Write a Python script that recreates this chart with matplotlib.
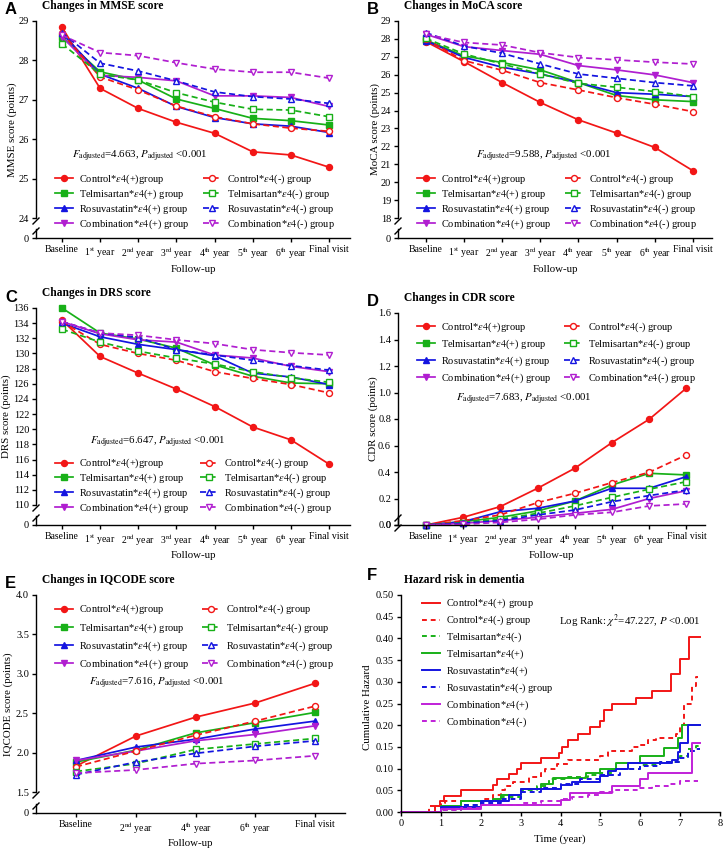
import numpy as np
import matplotlib
matplotlib.use('Agg')
import matplotlib.pyplot as plt
from matplotlib.lines import Line2D

plt.rcParams['font.family'] = ['Liberation Serif', 'DejaVu Serif']
plt.rcParams['mathtext.fontset'] = 'stix'
plt.rcParams['font.size'] = 7.5
plt.rcParams['axes.linewidth'] = 1.0


####################################################
# Data
groups = ['Control', 'Telmisartan', 'Rosuvastatin', 'Combination']
colors = ['#f21616', '#18b018', '#1414e0', '#b01ed0']
markers = ['o', 's', '^', 'v']

visits8 = ['Baseline', '1$^{\\rm st}$ year', '2$^{\\rm nd}$ year', '3$^{\\rm rd}$ year',
           '4$^{\\rm th}$ year', '5$^{\\rm th}$ year', '6$^{\\rm th}$ year', 'Final visit']
visits5 = ['Baseline', '2$^{\\rm nd}$ year', '4$^{\\rm th}$ year', '6$^{\\rm th}$ year', 'Final visit']

# (A) MMSE, rows follow `groups`
mmse_pos = [[28.84, 27.29, 26.78, 26.43, 26.15, 25.68, 25.60, 25.29],
            [28.60, 27.71, 27.50, 27.02, 26.78, 26.53, 26.47, 26.36],
            [28.69, 27.65, 27.29, 26.83, 26.55, 26.39, 26.33, 26.17],
            [28.60, 27.62, 27.57, 27.48, 27.10, 27.10, 27.06, 26.83]]
mmse_neg = [[28.70, 27.58, 27.25, 26.84, 26.57, 26.39, 26.28, 26.20],
            [28.42, 27.65, 27.50, 27.18, 26.94, 26.76, 26.74, 26.57],
            [28.70, 27.93, 27.73, 27.48, 27.20, 27.08, 27.02, 26.91],
            [28.64, 28.20, 28.12, 27.94, 27.78, 27.70, 27.70, 27.55]]

# (B) MoCA
moca_pos = [[27.85, 26.73, 25.56, 24.45, 23.48, 22.74, 21.94, 20.64],
            [27.94, 27.05, 26.68, 26.27, 25.56, 24.84, 24.60, 24.50],
            [27.90, 26.97, 26.42, 26.04, 25.56, 25.00, 24.91, 24.78],
            [28.26, 27.57, 27.35, 27.14, 26.51, 26.27, 25.99, 25.56]]
moca_neg = [[27.98, 26.79, 26.25, 25.56, 25.15, 24.72, 24.35, 23.94],
            [28.03, 27.16, 26.60, 26.04, 25.52, 25.30, 25.06, 24.78],
            [28.35, 27.60, 27.20, 26.60, 26.04, 25.80, 25.56, 25.38],
            [28.26, 27.80, 27.66, 27.23, 26.96, 26.83, 26.70, 26.60]]

# (C) DRS
drs_pos = [[134.4, 129.6, 127.4, 125.3, 123.0, 120.3, 118.6, 115.4],
           [136.0, 132.7, 131.9, 130.7, 128.5, 127.0, 126.1, 126.0],
           [134.0, 132.2, 131.2, 130.5, 129.7, 127.4, 126.9, 125.9],
           [134.2, 132.6, 131.8, 131.5, 129.8, 129.4, 128.3, 127.6]]
drs_neg = [[134.2, 131.2, 130.0, 129.1, 127.6, 126.7, 125.9, 124.8],
           [133.2, 131.5, 130.3, 129.4, 128.6, 127.6, 126.8, 126.2],
           [134.2, 132.7, 132.1, 130.5, 129.8, 129.1, 128.4, 127.8],
           [134.2, 132.7, 132.4, 131.8, 131.3, 130.5, 130.1, 129.8]]

# (D) CDR
cdr_pos = [[0.0, 0.058, 0.139, 0.277, 0.428, 0.622, 0.798, 1.033],
           [0.0, 0.025, 0.058, 0.106, 0.181, 0.302, 0.390, 0.378],
           [0.0, 0.025, 0.100, 0.126, 0.181, 0.277, 0.277, 0.365],
           [0.0, 0.013, 0.033, 0.058, 0.088, 0.118, 0.200, 0.259]]
cdr_neg = [[0.0, 0.033, 0.076, 0.169, 0.239, 0.320, 0.398, 0.529],
           [0.0, 0.018, 0.043, 0.088, 0.144, 0.209, 0.270, 0.327],
           [0.0, 0.013, 0.033, 0.076, 0.113, 0.176, 0.222, 0.264],
           [0.0, 0.005, 0.020, 0.043, 0.076, 0.096, 0.144, 0.159]]

# (E) IQCODE
iqcode_pos = [[1.83, 2.21, 2.45, 2.63, 2.88],
              [1.88, 2.03, 2.25, 2.38, 2.51],
              [1.90, 2.07, 2.17, 2.30, 2.40],
              [1.90, 2.02, 2.15, 2.23, 2.34]]
iqcode_neg = [[1.82, 2.02, 2.22, 2.40, 2.59],
              [1.76, 1.86, 2.04, 2.11, 2.18],
              [1.72, 1.88, 1.99, 2.08, 2.15],
              [1.74, 1.78, 1.86, 1.90, 1.96]]

# (F) cumulative hazard: event times and hazard after each event
haz_labels = ['Control*$\\mathit{\\varepsilon4}$(+) group', 'Control*$\\mathit{\\varepsilon4}$(-) group',
              'Telmisartan*$\\mathit{\\varepsilon4}$(-)', 'Telmisartan*$\\mathit{\\varepsilon4}$(+)',
              'Rosuvastatin*$\\mathit{\\varepsilon4}$(+)', 'Rosuvastatin*$\\mathit{\\varepsilon4}$(-) group',
              'Combination*$\\mathit{\\varepsilon4}$(+)', 'Combination*$\\mathit{\\varepsilon4}$(-)']
haz_colors = ['#f21616', '#f21616', '#18b018', '#18b018', '#1414e0', '#1414e0', '#c020d8', '#c020d8']
haz_dashed = [False, True, True, False, False, True, False, True]

ctrl_pos_t = [0.85, 0.98, 1.09, 1.5, 2.3, 2.4, 2.7, 2.9, 3.0, 3.5, 3.95, 4.05, 4.2, 4.45, 4.75,
              5.0, 5.08, 5.29, 5.9, 6.3, 6.78, 6.99, 7.22]
ctrl_pos_h = [0.013, 0.026, 0.037, 0.05, 0.062, 0.075, 0.087, 0.10, 0.112, 0.125, 0.137, 0.15,
              0.165, 0.18, 0.195, 0.21, 0.235, 0.249, 0.263, 0.279, 0.318, 0.352, 0.403]
ctrl_neg_t = [0.7, 1.0, 1.1, 2.1, 2.3, 2.5, 2.6, 2.8, 3.2, 3.5, 3.6, 3.9, 4.2, 5.0, 5.2, 5.8,
              6.0, 6.2, 6.4, 6.9, 7.0, 7.1, 7.3, 7.4]
ctrl_neg_h = [0.013, 0.02, 0.025, 0.03, 0.04, 0.05, 0.06, 0.07, 0.08, 0.09, 0.10, 0.11, 0.12,
              0.13, 0.14, 0.15, 0.155, 0.165, 0.17, 0.18, 0.20, 0.25, 0.29, 0.31]
telm_neg_t = [1.0, 1.5, 2.0, 2.5, 3.0, 3.4, 3.7, 4.2, 4.7, 5.0, 5.3, 6.0, 6.5, 7.0, 7.2, 7.4]
telm_neg_h = [0.005, 0.015, 0.025, 0.035, 0.05, 0.06, 0.075, 0.08, 0.085, 0.09, 0.10, 0.108,
              0.115, 0.13, 0.145, 0.152]
telm_pos_t = [1.0, 1.5, 2.3, 2.5, 3.0, 3.5, 3.8, 4.65, 5.0, 5.4, 6.0, 6.6, 6.95, 7.05]
telm_pos_h = [0.013, 0.026, 0.03, 0.039, 0.052, 0.065, 0.078, 0.09, 0.10, 0.114, 0.13, 0.147,
              0.17, 0.20]
rosu_pos_t = [1.0, 2.0, 2.7, 3.0, 4.0, 4.3, 5.0, 5.2, 5.4, 5.7, 6.8, 6.95, 7.0, 7.2]
rosu_pos_h = [0.012, 0.026, 0.04, 0.053, 0.062, 0.068, 0.082, 0.095, 0.10, 0.113, 0.12, 0.138,
              0.16, 0.20]
rosu_neg_t = [1.0, 1.5, 2.0, 2.5, 3.0, 3.5, 4.0, 4.5, 5.0, 5.5, 6.0, 6.5, 7.0, 7.2, 7.4]
rosu_neg_h = [0.008, 0.015, 0.02, 0.03, 0.045, 0.055, 0.065, 0.075, 0.085, 0.098, 0.105, 0.115,
              0.125, 0.14, 0.145]
comb_pos_t = [1.0, 2.0, 4.0, 4.25, 5.3, 6.0, 6.2, 7.3]
comb_pos_h = [0.008, 0.015, 0.028, 0.044, 0.06, 0.075, 0.09, 0.16]
comb_neg_t = [1.0, 1.5, 2.0, 3.0, 3.5, 4.0, 4.3, 4.7, 5.0, 5.4, 6.0, 6.3, 6.7, 7.0]
comb_neg_h = [0.005, 0.01, 0.015, 0.02, 0.025, 0.03, 0.035, 0.04, 0.045, 0.05, 0.055, 0.06,
              0.065, 0.072]
haz_times = [ctrl_pos_t, ctrl_neg_t, telm_neg_t, telm_pos_t, rosu_pos_t, rosu_neg_t, comb_pos_t, comb_neg_t]
haz_vals = [ctrl_pos_h, ctrl_neg_h, telm_neg_h, telm_pos_h, rosu_pos_h, rosu_neg_h, comb_pos_h, comb_neg_h]
haz_end = [7.5, 7.45, 7.5, 7.5, 7.5, 7.5, 7.5, 7.45]
####################################################


W, H = 723, 850
fig = plt.figure(figsize=(W / 100, H / 100), dpi=100)
FS = 7.5       # legend text
XFS = 7        # x tick labels
YFS = 7.5      # y tick labels
LFS = 7.8      # axis labels
TFS = 8.3      # panel titles


def px_axes(l, t, r, b):
    # axes placed by pixel box (left, top, right, bottom), measured from the top
    return fig.add_axes([l / W, 1 - b / H, (r - l) / W, (b - t) / H])


def fx(x):
    return x / W


def fy(y):
    return 1 - y / H


def style_axes(ax):
    for s in ['top', 'right']:
        ax.spines[s].set_visible(False)
    ax.tick_params(direction='out', length=3, width=1.0, pad=2)
    ax.tick_params(axis='x', labelsize=XFS)
    ax.tick_params(axis='y', labelsize=YFS)


def add_legends(ax, handles, labels, xl, xr, ytop, spacing):
    kw = dict(loc='upper left', bbox_transform=fig.transFigure, frameon=False, fontsize=FS,
              borderpad=0, borderaxespad=0, handlelength=1.7, handletextpad=0.6,
              labelspacing=spacing)
    leg1 = ax.legend(handles[:4], labels[:4], bbox_to_anchor=(fx(xl), fy(ytop)), **kw)
    ax.add_artist(leg1)
    ax.legend(handles[4:], labels[4:], bbox_to_anchor=(fx(xr), fy(ytop)), **kw)


def score_panel(box, stub_bottom, xlabels, xlim, ylim, yticks, yfmt, pos, neg, letter, title,
                ylabel, ylab_x, stat, stat_xy, leg_x, leg_y, spacing, broken=True):
    l, t, r, b = box
    x = np.arange(len(xlabels))
    ax = px_axes(l, t, r, b)
    style_axes(ax)

    e4 = '*$\\mathit{\\varepsilon4}$'
    handles, labels = [], []
    for sign, data in [('(+)', pos), ('(-)', neg)]:
        for i, g in enumerate(groups):
            open_mk = sign == '(-)'
            h, = ax.plot(x, data[i], color=colors[i], marker=markers[i], markersize=4.3,
                         lw=1.25, ls=(0, (3.5, 2)) if open_mk else '-',
                         markerfacecolor='white' if open_mk else colors[i],
                         markeredgewidth=1.0, clip_on=False, zorder=3)
            handles.append(h)
            tail = 'group' if (g == 'Control' and sign == '(+)') else ' group'
            labels.append(g + e4 + sign + tail)

    ax.set_xlim(*xlim)
    ax.set_ylim(*ylim)
    ax.set_yticks(yticks)
    ax.set_yticklabels([yfmt % v for v in yticks])

    if broken:
        ax.spines['bottom'].set_visible(False)
        ax.tick_params(axis='x', bottom=False, labelbottom=False)
        stub = px_axes(l, stub_bottom - 9, r, stub_bottom)
        style_axes(stub)
        stub.set_xlim(*xlim)
        stub.set_ylim(0, 1)
        stub.set_yticks([0])
        stub.set_yticklabels(['0'])
        stub.patch.set_alpha(0)
        bottom_ax = stub
        # break marks on the y axis
        for yy in [b + 3, stub_bottom - 7]:
            fig.add_artist(Line2D([fx(l - 3), fx(l + 3)], [fy(yy + 3), fy(yy - 3)],
                                  transform=fig.transFigure, color='k', lw=1.0))
    else:
        bottom_ax = ax

    bottom_ax.set_xticks(x)
    bottom_ax.set_xticklabels(xlabels)

    add_legends(ax, handles, labels, leg_x[0], leg_x[1], leg_y, spacing)

    fig.text(fx(l - 31), fy(t - 11), letter, fontsize=12, fontweight='bold',
             family='Liberation Sans', ha='left', va='center')
    fig.text(fx(l + 6), fy(t - 15), title, fontsize=TFS, fontweight='bold', ha='left', va='center')
    fig.text(fx(ylab_x), fy((t + stub_bottom) / 2), ylabel, rotation=90, fontsize=LFS,
             ha='center', va='center')
    fig.text(fx((l + r) / 2), fy(stub_bottom + 31), 'Follow-up', fontsize=LFS, ha='center', va='center')
    fig.text(fx(stat_xy[0]), fy(stat_xy[1]),
             '$F_{\\rm adjusted}$=%s, $P_{\\rm adjusted}$ <0.001' % stat,
             fontsize=7.8, ha='center', va='center')
    return ax


# A - MMSE
score_panel((36, 21, 350, 218), 238, visits8, (-0.68, 7.55), (24, 29), np.arange(24, 30), '%d',
            mmse_pos, mmse_neg, 'A', 'Changes in MMSE score', 'MMSE score (points)', 12,
            '4.663', (140, 156), (55, 203), 172, 0.15)
# B - MoCA
score_panel((398, 21, 712, 218), 238, visits8, (-0.73, 7.5), (18, 29), np.arange(18, 30), '%d',
            moca_pos, moca_neg, 'B', 'Changes in MoCA score', 'MoCA score (points)', 375,
            '9.588', (544, 156), (417, 565), 172, 0.15)
# C - DRS
score_panel((36, 308, 350, 505), 525, visits8, (-0.68, 7.55), (110, 136), np.arange(110, 137, 2), '%d',
            drs_pos, drs_neg, 'C', 'Changes in DRS score', 'DRS score (points)', 6,
            '6.647', (158, 442), (55, 200), 457, 0.12)
# D - CDR (no axis break)
score_panel((398, 313, 705, 525), 525, visits8, (-0.75, 7.5), (0, 1.6), np.arange(0, 1.61, 0.2), '%.1f',
            cdr_pos, cdr_neg, 'D', 'Changes in CDR score', 'CDR score (points)', 373,
            '7.683', (524, 399), (417, 564), 320, 0.36)
# E - IQCODE
score_panel((36, 595, 345, 792), 813, visits5, (-0.67, 4.5), (1.5, 4.0), np.arange(1.5, 4.01, 0.5), '%.1f',
            iqcode_pos, iqcode_neg, 'E', 'Changes in IQCODE score', 'IQCODE score (points)', 8,
            '7.616', (157, 683), (55, 202), 603, 0.46)

# F - cumulative hazard
axf = px_axes(401, 595, 720, 812)
style_axes(axf)
for i in range(len(haz_labels)):
    tt = [0] + haz_times[i] + [haz_end[i]]
    hh = [0] + haz_vals[i] + [haz_vals[i][-1]]
    axf.step(tt, hh, where='post', color=haz_colors[i], lw=1.4,
             ls=(0, (2.5, 2)) if haz_dashed[i] else '-', label=haz_labels[i], clip_on=False)
axf.set_xlim(0, 8)
axf.set_ylim(0, 0.5)
axf.set_xticks(np.arange(0, 9))
axf.tick_params(axis='x', labelsize=YFS)
axf.set_yticks(np.arange(0, 0.501, 0.05))
axf.set_yticklabels(['%.2f' % v for v in np.arange(0, 0.501, 0.05)])
axf.legend(loc='upper left', bbox_to_anchor=(fx(422), fy(597)), bbox_transform=fig.transFigure,
           frameon=False, fontsize=FS, borderpad=0, borderaxespad=0, handlelength=1.7,
           handletextpad=0.6, labelspacing=0.33)
fig.text(fx(367), fy(575), 'F', fontsize=12, fontweight='bold', family='Liberation Sans',
         ha='left', va='center')
fig.text(fx(404), fy(580), 'Hazard risk in dementia', fontsize=TFS, fontweight='bold',
         ha='left', va='center')
fig.text(fx(368), fy(707), 'Cumulative Hazard', rotation=90, fontsize=LFS, ha='center', va='center')
fig.text(fx(560), fy(839), 'Time (year)', fontsize=LFS, ha='center', va='center')
fig.text(fx(630), fy(621), 'Log Rank: $\\chi^2$=47.227, $P$ <0.001', fontsize=7.8,
         ha='center', va='center')

fig.savefig('out.png', dpi=100)
